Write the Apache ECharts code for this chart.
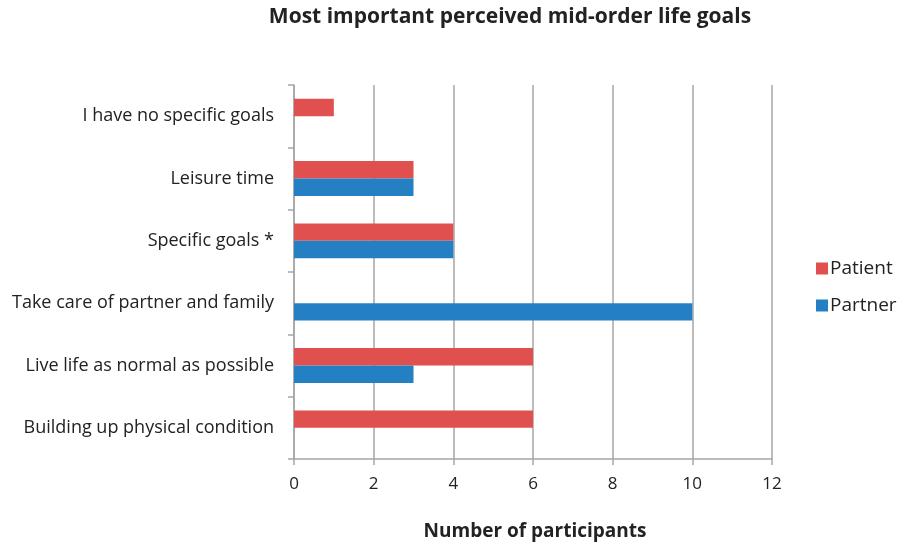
<!DOCTYPE html>
<html><head><meta charset="utf-8">
<script src="https://cdn.jsdelivr.net/npm/echarts@6/dist/echarts.min.js"></script>
<style>html,body{margin:0;padding:0;background:#fff}#c{width:899px;height:544px}</style>
</head><body><div id="c"></div>
<script>
const categories = ["Building up physical condition","Live life as normal as possible","Take care of partner and family","Specific goals *","Leisure time","I have no specific goals"];
const patient = [6, 6, 0, 4, 3, 1];
const partner = [0, 3, 10, 4, 3, 0];
const xTicks = [0, 2, 4, 6, 8, 10, 12];
const FONT = "'Open Sans', sans-serif";
const chart = echarts.init(document.getElementById('c'));
chart.setOption({
  animation: false,
  title: {text: "Most important perceived mid-order life goals", left: 505, textAlign: 'center', top: 2,
    textStyle: {fontFamily: FONT, fontSize: 21, fontWeight: 'bold', color: '#222'}},
  legend: {orient: 'vertical', left: 811, top: 254, itemGap: 18, itemWidth: 12, itemHeight: 12, icon: 'rect',
    data: ['Patient', 'Partner'], textStyle: {fontFamily: FONT, fontSize: 19, color: '#222', padding: [0,0,0,-3]}},
  grid: {left: 294, right: 127, top: 85, bottom: 85, containLabel: false, outerBoundsMode: 'none'},
  xAxis: {type: 'value', min: 0, max: 12, interval: 2,
    name: 'Number of participants', nameLocation: 'middle', nameGap: 63,
    nameTextStyle: {fontFamily: FONT, fontSize: 19, fontWeight: 'bold', color: '#222', padding: [0,0,0,4]},
    axisLine: {show: true, lineStyle: {color: '#a6a6a6', width: 1.5}},
    axisTick: {show: true, length: 6, lineStyle: {color: '#a6a6a6', width: 1.5}},
    axisLabel: {fontFamily: FONT, fontSize: 17, color: '#222', margin: 17, formatter: v => xTicks.includes(v) ? String(v) : ''},
    splitLine: {show: true, lineStyle: {color: '#a6a6a6', width: 1.5}}},
  yAxis: {type: 'category', data: categories, boundaryGap: true,
    axisLine: {show: true, lineStyle: {color: '#a6a6a6', width: 1.5}},
    axisTick: {show: true, length: 6, lineStyle: {color: '#a6a6a6', width: 1.5}},
    axisLabel: {fontFamily: FONT, fontSize: 18, color: '#222', margin: 20},
    splitLine: {show: false}},
  series: [
    {name: 'Patient', type: 'bar', data: patient, barGap: '0%', barCategoryGap: '44%', itemStyle: {color: '#e0504f'}},
    {name: 'Partner', type: 'bar', data: partner, barGap: '0%', barCategoryGap: '44%', itemStyle: {color: '#2480c3'}}
  ]
});
</script></body></html>
